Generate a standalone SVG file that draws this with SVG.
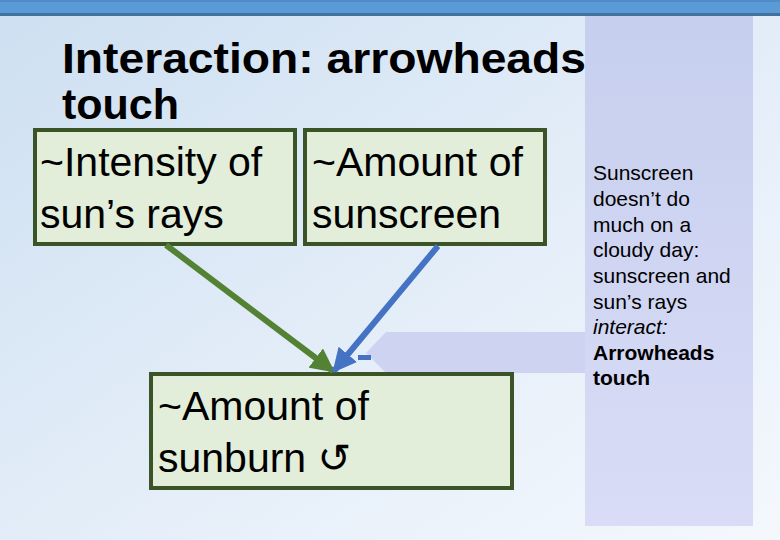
<svg xmlns="http://www.w3.org/2000/svg" width="780" height="540" viewBox="0 0 780 540">
<defs>
<linearGradient id="bg" x1="0" y1="0" x2="1" y2="1">
<stop offset="0" stop-color="#cddff1"/>
<stop offset="0.6" stop-color="#e6eff9"/>
<stop offset="1" stop-color="#f4f8fd"/>
</linearGradient>
<linearGradient id="panel" x1="0" y1="0" x2="0" y2="1">
<stop offset="0" stop-color="#c6cfee"/>
<stop offset="1" stop-color="#d9dcf6"/>
</linearGradient>
<marker id="ag" viewBox="0 0 10 10" refX="9" refY="5" markerWidth="4" markerHeight="4" orient="auto" markerUnits="strokeWidth">
<path d="M0,0 L10,5 L0,10 Z" fill="#548235"/>
</marker>
<marker id="ab" viewBox="0 0 10 10" refX="9" refY="5" markerWidth="4" markerHeight="4" orient="auto" markerUnits="strokeWidth">
<path d="M0,0 L10,5 L0,10 Z" fill="#4472c4"/>
</marker>
<style>
.box{fill:#e2eed9;stroke:#3b5427;stroke-width:4}
.bt{font-family:"Liberation Sans",Arial,sans-serif;font-size:41px;fill:#000}
.pt{font-family:"Liberation Sans",Arial,sans-serif;font-size:21px;fill:#000}
.title{font-family:"Liberation Sans",Arial,sans-serif;font-size:43px;font-weight:bold;fill:#000}
</style>
</defs>
<rect x="0" y="0" width="780" height="540" fill="url(#bg)"/>
<rect x="0" y="0" width="780" height="14" fill="#5b9bd5"/>
<rect x="0" y="0" width="780" height="2" fill="#4f8cc8"/>
<rect x="0" y="13" width="780" height="3" fill="#41719c"/>

<g id="panel-note">
<rect x="585" y="16" width="168" height="510" fill="url(#panel)"/>
<path d="M585,332 L386,332 L366,353 L386,373 L585,373 Z" fill="#cdd3f0"/>
<rect x="358" y="355" width="13" height="5" fill="#4472c4"/>
<text class="pt" x="593"><tspan x="593" y="180">Sunscreen</tspan><tspan x="593" y="206">doesn’t do</tspan><tspan x="593" y="232">much on a</tspan><tspan x="593" y="257">cloudy day:</tspan><tspan x="593" y="283">sunscreen and</tspan><tspan x="593" y="309">sun’s rays</tspan><tspan x="593" y="334" font-style="italic">interact:</tspan><tspan x="593" y="360" font-weight="bold">Arrowheads</tspan><tspan x="593" y="385" font-weight="bold">touch</tspan></text>
</g>

<g id="title">
<text class="title" x="62" y="73" textLength="524" lengthAdjust="spacingAndGlyphs">Interaction: arrowheads</text>
<text class="title" x="62" y="119">touch</text>
</g>

<g id="intensity">
<rect class="box" x="35" y="130" width="260" height="114"/>
<text class="bt" x="40" y="176">~Intensity of</text>
<text class="bt" x="40" y="228">sun’s rays</text>
</g>

<g id="sunscreen">
<rect class="box" x="305" y="130" width="240" height="114"/>
<text class="bt" x="312" y="176">~Amount of</text>
<text class="bt" x="312" y="228">sunscreen</text>
</g>

<g id="sunburn">
<rect class="box" x="151" y="374" width="361" height="114"/>
<text class="bt" x="158" y="420">~Amount of</text>
<text class="bt" x="158" y="472">sunburn <tspan font-family="DejaVu Sans, sans-serif" font-size="40px">↺</tspan></text>
</g>

<g id="connectors">
<line x1="166" y1="245" x2="333" y2="371" stroke="#548235" stroke-width="6" marker-end="url(#ag)"/>
<line x1="438" y1="246" x2="334" y2="371" stroke="#4472c4" stroke-width="6" marker-end="url(#ab)"/>
</g>
</svg>
